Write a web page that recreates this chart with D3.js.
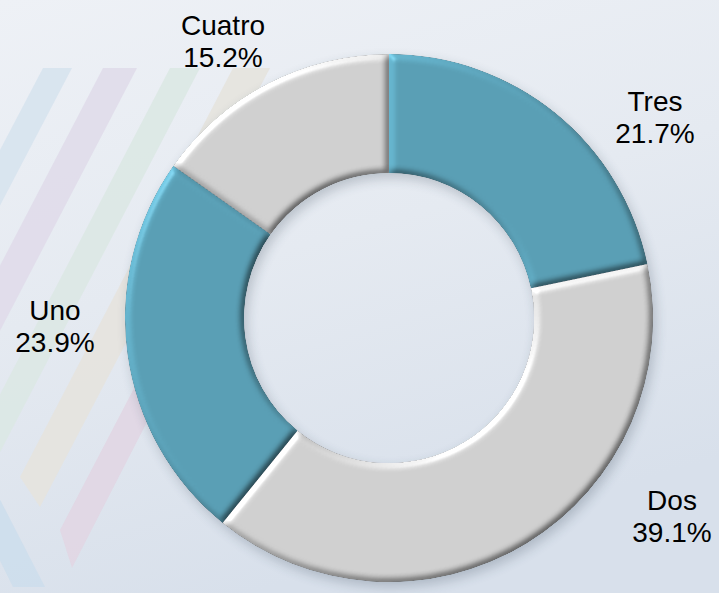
<!DOCTYPE html>
<html>
<head>
<meta charset="utf-8">
<script src="https://cdn.jsdelivr.net/npm/d3@7/dist/d3.min.js"></script>
<style>
  html, body { margin: 0; padding: 0; background: #e6ebf1; }
  svg { display: block; }
</style>
</head>
<body>
<script>
// Slices, clockwise from twelve o'clock
const categories = ["Tres", "Dos", "Uno", "Cuatro"];
const values = [21.7, 39.1, 23.9, 15.2];
const percentLabels = ["21.7%", "39.1%", "23.9%", "15.2%"];
const sliceColors = ["#5a9fb5", "#d0d0d0", "#5a9fb5", "#d0d0d0"];

const W = 719, H = 593;
const cx = 389, cy = 318;
const outerR = 264, innerR = 145;
// Label anchor (first line baseline) relative to the donut centre
const labelAt = [[266, -207], [283, 192], [-334, 2], [-166, -283]];

const svg = d3.select("body").append("svg")
  .attr("width", W).attr("height", H);

const defs = svg.append("defs");

const bg = defs.append("linearGradient").attr("id", "bg")
  .attr("x1", 0).attr("y1", 0).attr("x2", 0.35).attr("y2", 1);
bg.append("stop").attr("offset", 0).attr("stop-color", "#eef1f6");
bg.append("stop").attr("offset", 0.5).attr("stop-color", "#e5eaf1");
bg.append("stop").attr("offset", 1).attr("stop-color", "#d8e0eb");

// Rounded bevel: diffuse light from the upper left plus a soft gloss
const bevel = defs.append("filter").attr("id", "bevel")
  .attr("x", "-10%").attr("y", "-10%").attr("width", "120%").attr("height", "120%")
  .attr("color-interpolation-filters", "sRGB");
bevel.append("feGaussianBlur").attr("in", "SourceAlpha").attr("stdDeviation", 3.5).attr("result", "blur");
bevel.append("feDiffuseLighting").attr("in", "blur").attr("surfaceScale", 3.5)
  .attr("diffuseConstant", 1).attr("lighting-color", "#ffffff").attr("result", "diff")
  .append("feDistantLight").attr("azimuth", 225).attr("elevation", 45);
bevel.append("feComposite").attr("in", "SourceGraphic").attr("in2", "diff")
  .attr("operator", "arithmetic").attr("k1", 0.85).attr("k2", 0.4).attr("k3", 0).attr("k4", 0)
  .attr("result", "lit");
bevel.append("feSpecularLighting").attr("in", "blur").attr("surfaceScale", 3.5)
  .attr("specularConstant", 0.6).attr("specularExponent", 28)
  .attr("lighting-color", "#ffffff").attr("result", "spec")
  .append("feDistantLight").attr("azimuth", 225).attr("elevation", 40);
bevel.append("feComposite").attr("in", "spec").attr("in2", "blur")
  .attr("operator", "arithmetic").attr("k1", 0).attr("k2", 0.2).attr("k3", 0).attr("k4", -0.03)
  .attr("result", "spec2");
bevel.append("feComposite").attr("in", "lit").attr("in2", "spec2")
  .attr("operator", "arithmetic").attr("k1", 0).attr("k2", 1).attr("k3", 1).attr("k4", 0)
  .attr("result", "sum");
bevel.append("feComposite").attr("in", "sum").attr("in2", "SourceAlpha").attr("operator", "in");

const shadow = defs.append("filter").attr("id", "shadow")
  .attr("x", "-20%").attr("y", "-20%").attr("width", "140%").attr("height", "140%");
shadow.append("feGaussianBlur").attr("stdDeviation", 6);

// Background
svg.append("rect").attr("width", W).attr("height", H).attr("fill", "url(#bg)");

// Decorative diagonal ribbons on the left
const ribbons = [
  { pts: [[43, 68], [72, 68], [-60, 320], [-89, 320]], fill: "#d7e3ee" },
  { pts: [[103, 68], [137, 68], [-10, 350], [-44, 350]], fill: "#e0dcea" },
  { pts: [[170, 68], [200, 68], [-3, 458], [-33, 458]], fill: "#dce8e4" },
  { pts: [[233, 68], [270, 68], [40, 507], [20, 477]], fill: "#e6e3de" },
  { pts: [[154, 350], [184, 350], [72, 568], [60, 530]], fill: "#e1d6e3" },
  { pts: [[-10, 480], [45, 587], [13, 587], [-40, 480]], fill: "#cddeec" }
];
svg.append("g").selectAll("polygon").data(ribbons).join("polygon")
  .attr("points", d => d.pts.map(p => p.join(",")).join(" "))
  .attr("fill", d => d.fill)
  .attr("opacity", 0.9);

const pie = d3.pie().sort(null).value(d => d)
  .startAngle(0).endAngle(2 * Math.PI);
const arcs = pie(values);
const arc = d3.arc().innerRadius(innerR).outerRadius(outerR);

const g = svg.append("g").attr("transform", `translate(${cx},${cy})`);

// Soft shadow under the ring
g.append("g").attr("transform", "translate(3,5)")
  .attr("filter", "url(#shadow)").attr("opacity", 0.22)
  .selectAll("path").data(arcs).join("path")
  .attr("d", arc).attr("fill", "#1f2d40");

// Slices
g.append("g").selectAll("path").data(arcs).join("path")
  .attr("d", arc)
  .attr("fill", (d, i) => sliceColors[i])
  .attr("filter", "url(#bevel)");

// Labels
const lab = svg.append("g")
  .attr("font-family", "'Liberation Sans', Arial, sans-serif")
  .attr("font-size", 28)
  .attr("fill", "#000")
  .attr("text-anchor", "middle");
const texts = lab.selectAll("text").data(arcs).join("text")
  .attr("transform", (d, i) => `translate(${cx + labelAt[i][0]},${cy + labelAt[i][1]})`);
texts.append("tspan").attr("x", 0).attr("y", 0).text((d, i) => categories[i]);
texts.append("tspan").attr("x", 0).attr("y", 32).text((d, i) => percentLabels[i]);
</script>
</body>
</html>
